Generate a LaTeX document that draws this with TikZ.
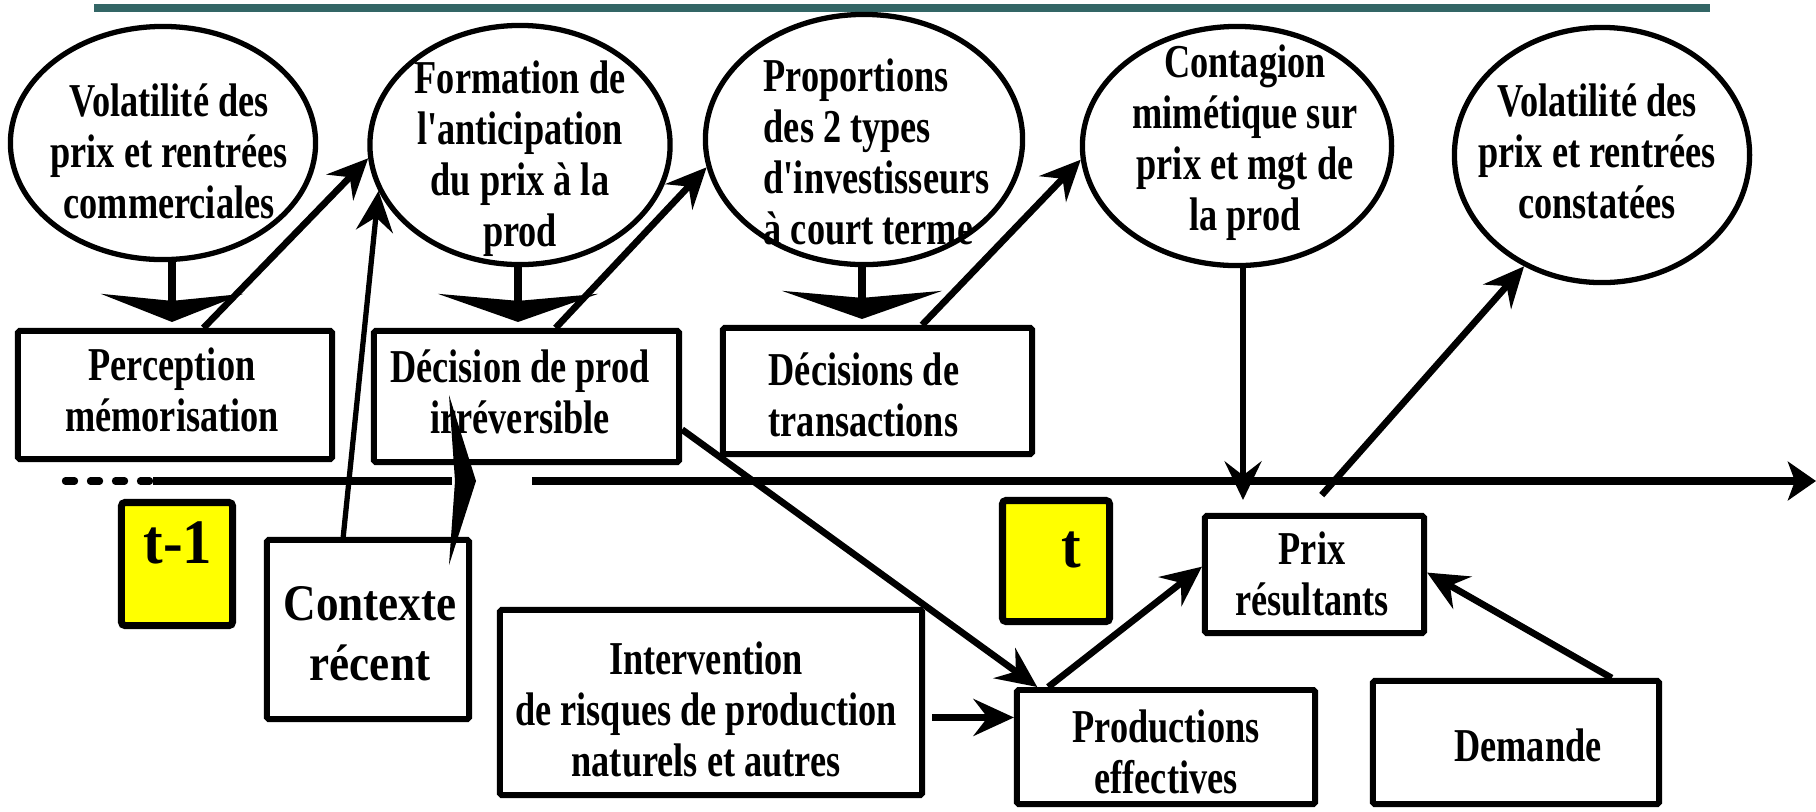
\documentclass[tikz,border=0pt]{standalone}
\usepackage{fontspec}
\usetikzlibrary{shapes.geometric,arrows.meta,calc}
\newfontfamily\tnr{Liberation Serif}[FakeStretch=0.77]
\newfontfamily\tnrw{Liberation Serif}[FakeStretch=0.88]
\newfontfamily\tnrt{Liberation Serif}[FakeStretch=0.93]
\definecolor{tealbar}{RGB}{51,102,102}
\definecolor{tyellow}{RGB}{255,255,0}
\tikzset{
  ell/.style={ellipse, draw, line width=1.5pt, inner sep=0pt},
  box/.style={rectangle, draw, line width=1.7pt, inner sep=0pt, rounded corners=0.5pt},
  tbox/.style={rectangle, draw, fill=tyellow, line width=2pt, inner sep=0pt, rounded corners=1pt},
  txt/.style={font=\tnr\bfseries\fontsize{13.4pt}{14.5pt}\selectfont, align=center, inner sep=0pt},
  txtC/.style={font=\tnrw\bfseries\fontsize{14.6pt}{17.1pt}\selectfont, align=center, inner sep=0pt},
  tfont/.style={font=\tnrt\bfseries\fontsize{18pt}{20pt}\selectfont, inner sep=0pt},
  conn/.style={line width=1.9pt, -{Stealth[length=11.5pt,width=10.5pt,inset=4pt]}},
  thinconn/.style={line width=1.5pt, -{Stealth[length=11.5pt,width=10.5pt,inset=4pt]}},
  vconn/.style={line width=1.6pt, -{Stealth[length=11pt,width=10.5pt,inset=4pt]}},
  stemarrow/.style={line width=2.2pt, -{Stealth[length=8pt,width=#1,inset=2pt]}},
  timeline/.style={line width=2.1pt},
}
\begin{document}
\begin{tikzpicture}[x=0.01cm,y=-0.01cm]
\useasboundingbox (0,0) rectangle (1816,811);

% top bar
\coordinate (barL) at (94,8);
\coordinate (barR) at (1710,8);
\draw[tealbar, line width=2.3pt] (barL) -- (barR);

% ellipses
\node[ell, minimum width=3.05cm, minimum height=2.33cm] (eA) at (163,143) {};
\node[txt] (tA) at (169,151) {Volatilité des\\prix et rentrées\\commerciales};

\node[ell, minimum width=3.00cm, minimum height=2.39cm] (eB) at (520,145) {};
\node[txt] (tB) at (520,159) {Formation de\\l'anticipation\\du prix à la\\prod};

\node[ell, minimum width=3.17cm, minimum height=2.50cm] (eC) at (864,139.5) {};
\node[txt, align=left, anchor=west] (tC) at (763,152) {Proportions\\des 2 types\\d'investisseurs\\à court terme};

\node[ell, minimum width=3.09cm, minimum height=2.39cm] (eD) at (1237,146) {};
\node[txt] (tD) at (1245,143) {Contagion\\mimétique sur\\prix et mgt de\\la prod};

\node[ell, minimum width=2.95cm, minimum height=2.55cm] (eE) at (1602,155) {};
\node[txt] (tE) at (1597,151) {Volatilité des\\prix et rentrées\\constatées};

% boxes
\node[box, minimum width=3.14cm, minimum height=1.28cm] (bP) at (175,395) {};
\node[txt] (tP) at (172,390) {Perception\\mémorisation};

\node[box, minimum width=3.05cm, minimum height=1.31cm] (bD) at (526.5,396.5) {};
\node[txt] (tDd) at (520,392) {Décision de prod\\irréversible};

\node[box, minimum width=3.09cm, minimum height=1.26cm] (bT) at (877.5,391) {};
\node[txt, align=left, anchor=west] (tT) at (768,395) {Décisions de\\transactions};

\node[box, minimum width=2.02cm, minimum height=1.79cm] (bC) at (368,629.5) {};
\node[txtC] (tCx) at (370,634) {Contexte\\récent};

\node[box, minimum width=4.22cm, minimum height=1.85cm] (bI) at (711,702.5) {};
\node[txt] (tI) at (706,709) {Intervention\\de risques de production\\naturels et autres};

\node[box, minimum width=2.98cm, minimum height=1.14cm] (bPr) at (1166,747) {};
\node[txt] (tPr) at (1166,752) {Productions\\effectives};

\node[box, minimum width=2.86cm, minimum height=1.23cm] (bDe) at (1516,742.5) {};
\node[txt] (tDe) at (1528,745) {Demande};

\node[box, minimum width=2.19cm, minimum height=1.17cm] (bPx) at (1314.5,574.5) {};
\node[txt] (tPx) at (1312,574) {Prix\\résultants};

% time labels
\node[tbox, minimum width=1.11cm, minimum height=1.23cm] (tm1) at (177,564) {};
\node[tfont, anchor=base] (tm1t) at (178,563) {t-1};
\node[tbox, minimum width=1.07cm, minimum height=1.21cm] (tt) at (1056,561) {};
\node[tfont, anchor=base] (ttt) at (1071,567) {t};

% timeline
\coordinate (d1) at (65.5,481);
\coordinate (d2) at (152,481);
\coordinate (l1) at (153,481);
\coordinate (l2) at (452,481);
\coordinate (r1) at (532,481);
\coordinate (r2) at (1816,481);
\draw[timeline, line cap=round, dash pattern=on 2.56pt off 4.55pt] (d1) -- (d2);
\draw[timeline] (l1) -- (l2);
\fill (449,395) -- (476,481) -- (449,565) -- (455,481) -- cycle;
\draw[timeline, -{Stealth[length=8pt,width=11pt,inset=2pt]}] (r1) -- (r2);

% stems from ellipses to boxes
\draw[stemarrow=40.4pt] ($(eA.south -| bP.north)+(-3,0)$) -- ($(bP.north)+(-3,-6)$);
\draw[stemarrow=45.5pt] ($(eB.south)+(-2,0)$) -- ($(eB.south |- bD.north)+(-2,-6)$);
\draw[stemarrow=45.5pt] ($(eC.south)+(-2,0)$) -- ($(eC.south |- bT.north)+(-2,-6)$);

% connectors
\draw[conn] (bP.67) -- (eB.185);
\draw[thinconn] (bC.105) -- (eB.198);
\draw[conn] (bD.67) -- (eC.190);
\draw[conn] (bT.56) -- (eD.185);
\draw[vconn] ($(eD.south)+(6,0)$) -- ($(eD.south |- bPx.north)+(6,-13)$);
\draw[conn, shorten <=6.8pt] (bPx.98) -- (eE.235);
\draw[conn] (bD.-12) -- (bPr.155);
\draw[conn, shorten <=2pt] (bI.east |- bPr.169) -- (bPr.169);
\draw[conn] (bPr.153) -- (bPx.176);
\draw[conn] (bDe.34) -- (bPx.1);
\end{tikzpicture}
\end{document}
